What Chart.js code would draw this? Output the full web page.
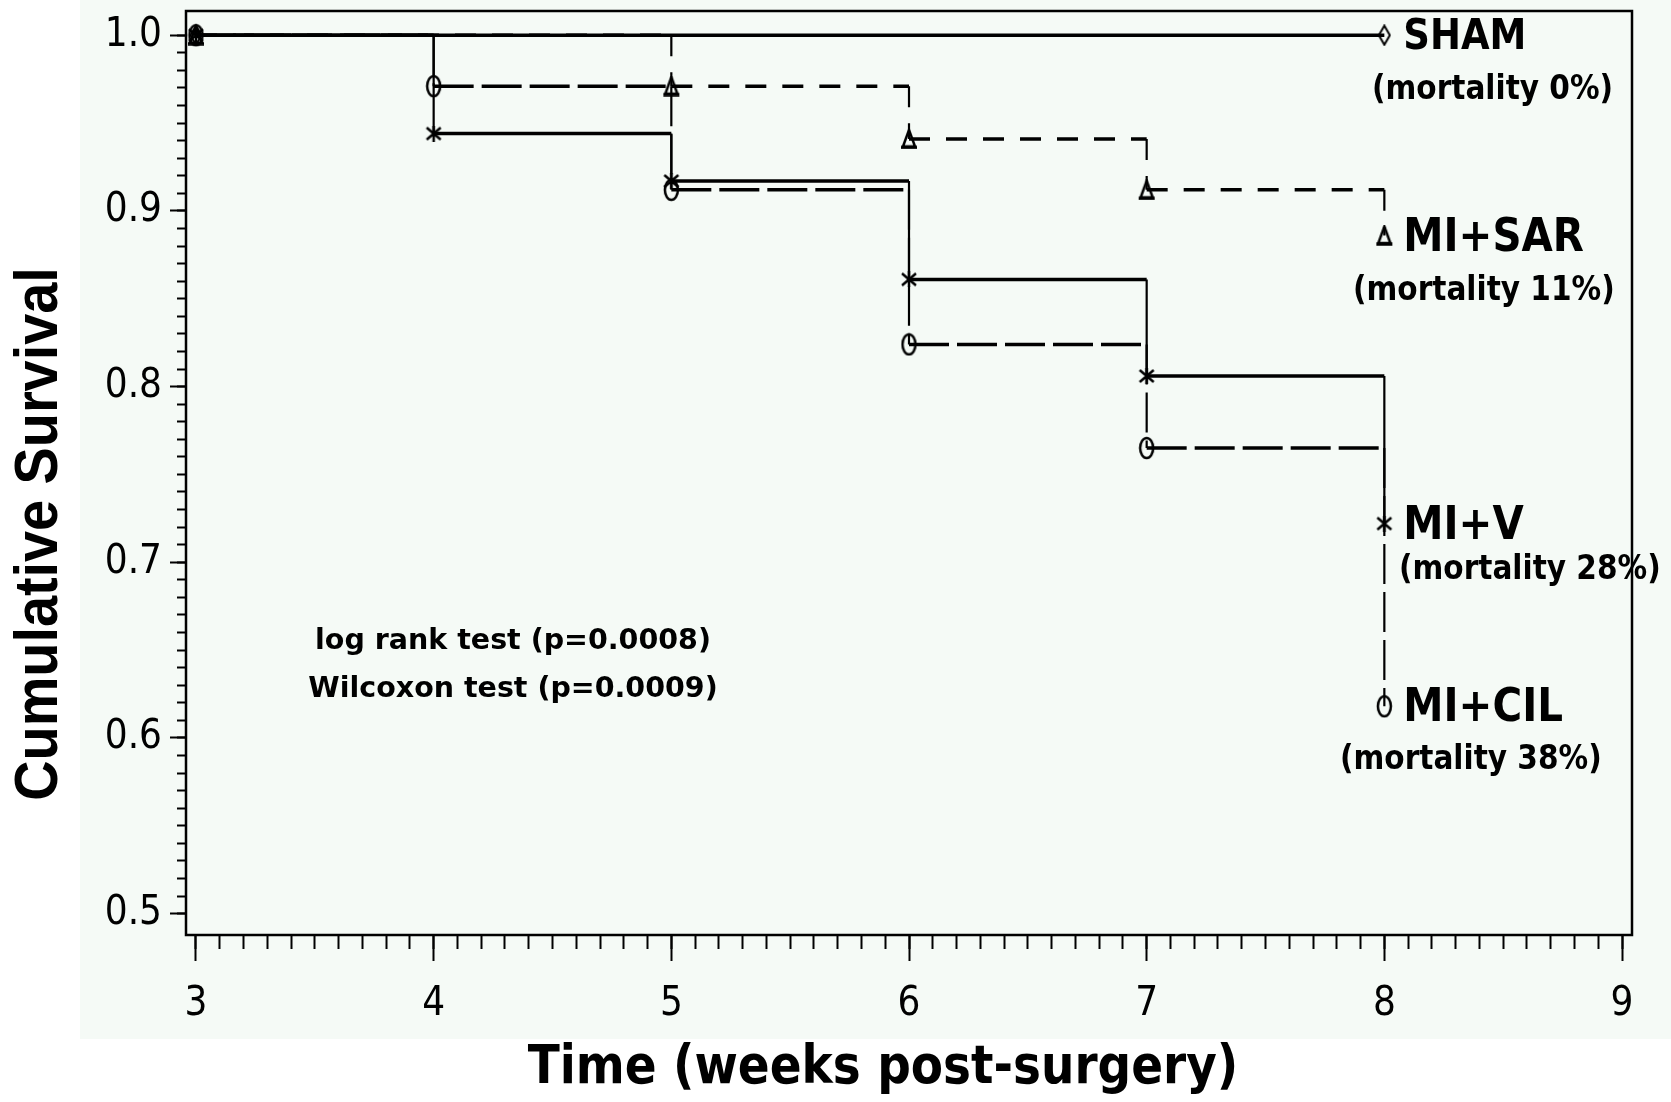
<!DOCTYPE html>
<html>
<head>
<meta charset="utf-8">
<title>Cumulative survival after surgery</title>
<script src="https://cdn.jsdelivr.net/npm/chart.js@4.4.1/dist/chart.umd.min.js"></script>
<style>
  html, body { margin: 0; padding: 0; background: #ffffff; }
  #wrap { width: 1671px; height: 1102px; position: relative; }
  canvas { display: block; }
</style>
</head>
<body>
<div id="wrap"><canvas id="km" width="1671" height="1102"></canvas></div>
<script>
// Kaplan-Meier survival estimates, weeks 3-8 after surgery
const weeks    = [3, 4, 5, 6, 7, 8];
const groups   = ['SHAM', 'MI+SAR', 'MI+V', 'MI+CIL'];
const survSHAM = [1.000, 1.000, 1.000, 1.000, 1.000, 1.000];
const survSAR  = [1.000, 1.000, 0.971, 0.941, 0.912, 0.886];
const survV    = [1.000, 0.944, 0.917, 0.861, 0.806, 0.722];
const survCIL  = [1.000, 0.971, 0.912, 0.824, 0.765, 0.618];

// axis tick labels
const xTickValues = [3, 4, 5, 6, 7, 8, 9];
const yTickValues = [0.5, 0.6, 0.7, 0.8, 0.9, 1.0];

const testLines = ['log rank test (p=0.0008)', 'Wilcoxon test (p=0.0009)'];

const BG_TINT = '#F5FAF6';
const INK = '#000000';

// turn survival values into the corner points of a step curve
function stepPoints(times, surv) {
  const pts = [];
  surv.forEach((s, i) => {
    const changed = i > 0 && s !== surv[i - 1];
    if (changed) pts.push({ x: times[i], y: surv[i - 1], mark: false });
    pts.push({ x: times[i], y: s, mark: changed || i === 0 || i === surv.length - 1 });
  });
  return pts;
}

function mortalityText(surv) {
  return '(mortality ' + Math.round((1 - surv[surv.length - 1]) * 100) + '%)';
}

// small hollow plotting symbols
function symbol(w, h, lw, draw) {
  const c = document.createElement('canvas');
  c.width = w; c.height = h;
  const g = c.getContext('2d');
  g.strokeStyle = INK;
  g.lineWidth = lw;
  draw(g, w, h);
  return c;
}
const diamondSym = symbol(14, 22, 2, (g, w, h) => {
  g.beginPath();
  g.moveTo(w / 2, 1.5); g.lineTo(w - 1.5, h / 2); g.lineTo(w / 2, h - 1.5); g.lineTo(1.5, h / 2);
  g.closePath(); g.stroke();
});
const triangleSym = symbol(18, 21, 2.5, (g, w, h) => {
  g.beginPath();
  g.moveTo(w / 2, 1.5); g.lineTo(w - 3, h - 3); g.lineTo(3, h - 3);
  g.closePath(); g.stroke();
  g.lineWidth = 3.5;
  g.beginPath(); g.moveTo(1, h - 2); g.lineTo(w - 1, h - 2); g.stroke();
});
const starSym = symbol(18, 16, 2.5, (g, w, h) => {
  g.beginPath();
  g.moveTo(2, 2); g.lineTo(w - 2, h - 2);
  g.moveTo(w - 2, 2); g.lineTo(2, h - 2);
  g.moveTo(w / 2, 0); g.lineTo(w / 2, h);
  g.stroke();
});
const circleSym = symbol(17, 24, 2.5, (g, w, h) => {
  g.beginPath();
  g.ellipse(w / 2, h / 2, w / 2 - 2, h / 2 - 2, 0, 0, Math.PI * 2);
  g.stroke();
});

function curve(label, surv, dash, sym) {
  return {
    label: label,
    data: stepPoints(weeks, surv),
    borderColor: INK,
    borderWidth: 3.5,
    borderDash: dash,
    borderCapStyle: 'butt',
    tension: 0,
    fill: false,
    pointStyle: sym,
    pointRadius: ctx => (ctx.raw && ctx.raw.mark) ? 6 : 0,
    pointHoverRadius: 0,
    segment: {
      // drops are drawn thinner than the plateaus
      borderWidth: ctx => ctx.p0.parsed.x === ctx.p1.parsed.x ? 2.2 : 3.5
    },
    survival: surv
  };
}

const tickFont = { family: "'Liberation Sans Narrow', 'DejaVu Sans Condensed', 'Liberation Sans', sans-serif", size: 40, weight: 'normal' };

const xMinorTicks = [];
for (let k = 30; k <= 90; k++) xMinorTicks.push(k / 10);
const yMinorTicks = [];
for (let k = 50; k <= 100; k++) yMinorTicks.push(k / 100);

const X_MIN = 2.958, X_MAX = 9.042, Y_MIN = 0.4878, Y_MAX = 1.0138;

function drawText(ctx, text, x, y, font, sx, align) {
  ctx.save();
  ctx.font = font;
  ctx.fillStyle = INK;
  ctx.textBaseline = 'middle';
  ctx.textAlign = align || 'left';
  ctx.translate(x, y);
  ctx.scale(sx, 1);
  ctx.fillText(text, 0, 0);
  ctx.restore();
}

const decorations = {
  id: 'decorations',
  beforeDraw(chart) {
    const ctx = chart.ctx;
    ctx.save();
    ctx.fillStyle = '#ffffff';
    ctx.fillRect(0, 0, chart.width, chart.height);
    ctx.fillStyle = BG_TINT;
    ctx.fillRect(80, 0, chart.width - 80, 1039);
    ctx.restore();
  },
  beforeDatasetsDraw(chart) {
    const a = chart.chartArea, ctx = chart.ctx;
    ctx.save();
    ctx.strokeStyle = INK;
    ctx.lineWidth = 2.5;
    ctx.strokeRect(a.left, a.top, a.right - a.left, a.bottom - a.top);
    ctx.restore();
  },
  afterDraw(chart) {
    const ctx = chart.ctx;
    const xs = chart.scales.x, ys = chart.scales.y;
    const sans = "'DejaVu Sans', sans-serif";

    // group names next to the last point of each curve
    const lastX = weeks[weeks.length - 1];
    const nameSizes = [43, 47, 47, 47];
    chart.data.datasets.forEach((ds, i) => {
      const s = ds.survival[ds.survival.length - 1];
      drawText(ctx, groups[i], xs.getPixelForValue(lastX) + 19, ys.getPixelForValue(s) + 3,
        'bold ' + nameSizes[i] + 'px ' + sans, 0.86, 'left');
    });

    // mortality notes
    const notePos = [[1372, 90], [1353, 291], [1399, 570], [1340, 760]];
    chart.data.datasets.forEach((ds, i) => {
      drawText(ctx, mortalityText(ds.survival), notePos[i][0], notePos[i][1],
        'bold 34px ' + sans, 0.87, 'left');
    });

    // test statistics
    drawText(ctx, testLines[0], 513, 642, "bold 28.5px " + sans, 1, 'center');
    drawText(ctx, testLines[1], 513, 690, "bold 28.5px " + sans, 1, 'center');

    // axis titles
    ctx.save();
    ctx.translate(40, 534);
    ctx.rotate(-Math.PI / 2);
    ctx.scale(0.9, 1);
    ctx.font = "bold 62px 'Liberation Sans', Arial, sans-serif";
    ctx.fillStyle = INK;
    ctx.textAlign = 'center';
    ctx.textBaseline = 'middle';
    ctx.fillText('Cumulative Survival', 0, 0);
    ctx.restore();

    drawText(ctx, 'Time (weeks post-surgery)', 883, 1069, "bold 54px " + sans, 0.87, 'center');
  }
};

const tickGrid = (len) => ({
  drawOnChartArea: false,
  drawTicks: true,
  tickLength: len,
  tickWidth: 2,
  tickColor: INK,
  color: INK
});

// keep tick labels from pushing the plot frame inward
const noLabelPadding = s => { s.paddingTop = 0; s.paddingBottom = 0; s.paddingLeft = 0; s.paddingRight = 0; };

new Chart(document.getElementById('km'), {
  type: 'line',
  data: {
    datasets: [
      curve('SHAM', survSHAM, [], diamondSym),
      curve('MI+SAR', survSAR, [21, 16], triangleSym),
      curve('MI+V', survV, [], starSym),
      curve('MI+CIL', survCIL, [40, 8], circleSym)
    ]
  },
  options: {
    responsive: false,
    animation: false,
    devicePixelRatio: 1,
    events: [],
    layout: { padding: { left: 0, top: 11, right: 39, bottom: 0 } },
    plugins: {
      legend: { display: false },
      tooltip: { enabled: false },
      title: { display: false }
    },
    scales: {
      x: {
        type: 'linear', position: 'bottom', weight: 1,
        min: X_MIN, max: X_MAX,
        afterBuildTicks: s => { s.ticks = xTickValues.map(v => ({ value: v })); },
        afterFit: s => { s.height = 167; noLabelPadding(s); },
        ticks: { font: tickFont, color: INK, padding: 20, maxRotation: 0, autoSkip: false,
                 callback: v => String(v) },
        grid: tickGrid(26),
        border: { display: false }
      },
      xMinor: {
        type: 'linear', position: 'bottom', weight: 0,
        min: X_MIN, max: X_MAX,
        afterBuildTicks: s => { s.ticks = xMinorTicks.map(v => ({ value: v })); },
        afterFit: s => { s.height = 0; noLabelPadding(s); },
        ticks: { display: false },
        grid: tickGrid(14),
        border: { display: false }
      },
      y: {
        type: 'linear', position: 'left', weight: 1,
        min: Y_MIN, max: Y_MAX,
        afterBuildTicks: s => { s.ticks = yTickValues.map(v => ({ value: v })); },
        afterFit: s => { s.width = 186; noLabelPadding(s); },
        ticks: { font: tickFont, color: INK, padding: 8, autoSkip: false,
                 callback: v => Number(v).toFixed(1) },
        grid: tickGrid(16),
        border: { display: false }
      },
      yMinor: {
        type: 'linear', position: 'left', weight: 0,
        min: Y_MIN, max: Y_MAX,
        afterBuildTicks: s => { s.ticks = yMinorTicks.map(v => ({ value: v })); },
        afterFit: s => { s.width = 0; noLabelPadding(s); },
        ticks: { display: false },
        grid: tickGrid(9),
        border: { display: false }
      }
    }
  },
  plugins: [decorations]
});
</script>
</body>
</html>
